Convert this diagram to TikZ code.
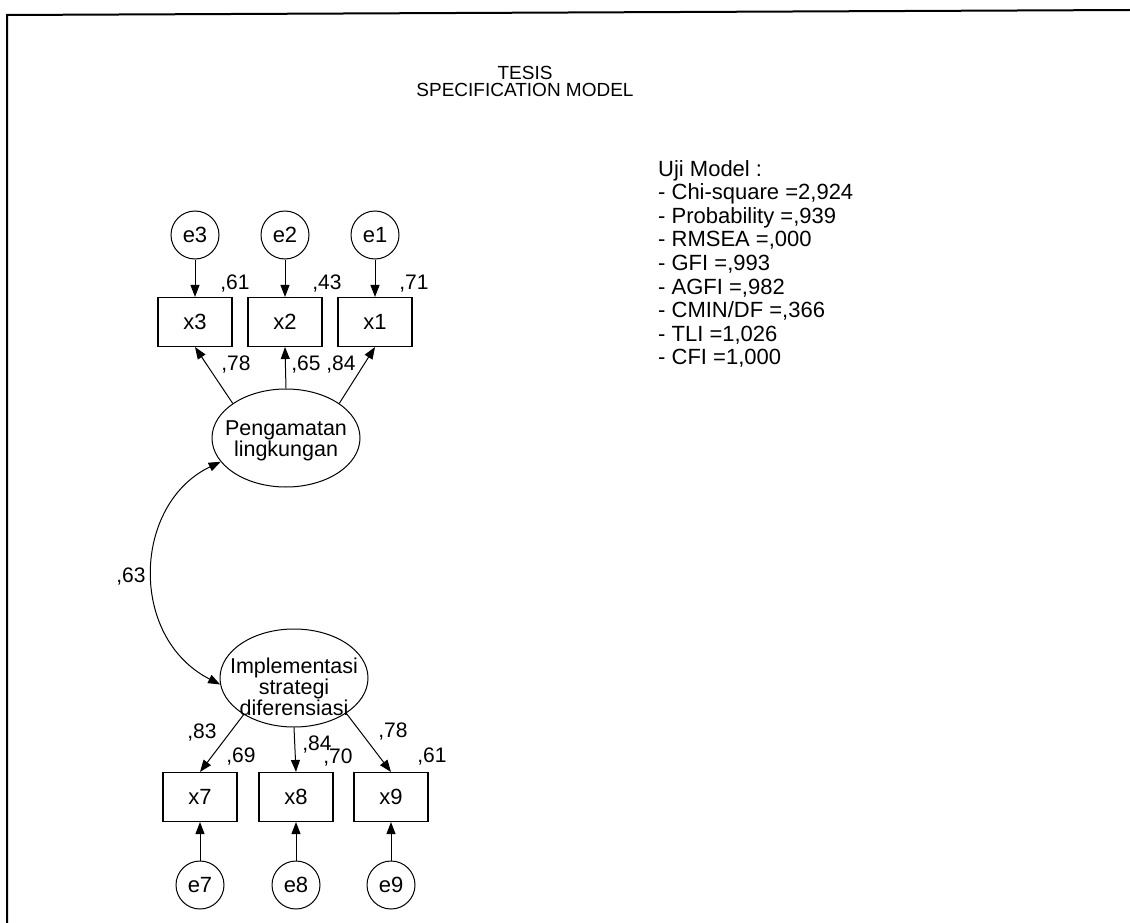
\documentclass[tikz,border=0pt]{standalone}
\usepackage{fontspec}
\setmainfont{Liberation Sans}
\usetikzlibrary{arrows.meta,positioning,shapes.geometric}
\tikzset{
  obsbox/.style={rectangle, draw, line width=1.1pt, minimum width=74pt, minimum height=49pt,
                 inner sep=0pt, font=\fontsize{22}{24}\selectfont},
  errnode/.style={circle, draw, line width=1pt, minimum size=48pt, inner sep=0pt,
                  font=\fontsize{22}{24}\selectfont},
  latent/.style={ellipse, draw, line width=1pt, minimum width=148pt, minimum height=98pt, inner sep=0pt},
  latenttext/.style={align=center, inner sep=0pt, font=\fontsize{21.5}{21}\selectfont},
  coef/.style={inner sep=0pt, font=\fontsize{21}{22}\selectfont},
  stat/.style={inner sep=0pt, anchor=base west, font=\fontsize{22}{24}\selectfont},
  ttl/.style={inner sep=0pt, anchor=base, font=\fontsize{19}{19}\selectfont},
  arr/.style={-{Triangle[length=12pt,width=9pt]}, line width=1pt},
  cov/.style={{Triangle[length=12pt,width=9pt]}-{Triangle[length=12pt,width=9pt]}, line width=1pt},
}
\begin{document}
\begin{tikzpicture}[x=1pt, y=-1pt]
  \useasboundingbox (0,0) rectangle (1130,923);
  \draw[line width=2pt] (1130,10) -- (7,15) -- (7,923);

  % title
  \node[ttl] (title) at (525,80) {TESIS};
  \node[ttl] (subtitle) at (525,97) {SPECIFICATION MODEL};

  % upper construct
  \foreach \n/\xx in {3/195, 2/285, 1/375} {
    \node[errnode] (e\n) at (\xx,235) {e\n};
    \node[obsbox] (x\n) at (\xx,322) {x\n};
    \draw[arr] (e\n) -- (x\n);
  }
  \node[latent] (peng) at (286,438) {};
  \node[latenttext] (pengtxt) at (286,441) {Pengamatan\\lingkungan};
  \draw[arr] (peng.147) -- (x3.south);
  \draw[arr] (peng.north) -- (x2.south);
  \draw[arr] (peng.33) -- (x1.south);

  \node[coef] (r3) at (235,284) {,61};
  \node[coef] (r2) at (327,284) {,43};
  \node[coef] (r1) at (414,284) {,71};
  \node[coef] (l3) at (236,365) {,78};
  \node[coef] (l2) at (306,365) {,65};
  \node[coef] (l1) at (341,365) {,84};

  % lower construct
  \foreach \n/\xx in {7/200, 8/296, 9/391} {
    \node[obsbox] (x\n) at (\xx,797) {x\n};
    \node[errnode] (e\n) at (\xx,885) {e\n};
    \draw[arr] (e\n) -- (x\n);
  }
  \node[latent] (impl) at (294,678) {};
  \node[latenttext] (impltxt) at (294,687) {Implementasi\\strategi\\diferensiasi};
  \draw[arr] (impl.216) -- (x7.north);
  \draw[arr] (impl.south) -- (x8.north);
  \draw[arr] (impl.326) -- (x9.north);

  \node[coef] (l7) at (202,733) {,83};
  \node[coef] (r7) at (241,757) {,69};
  \node[coef] (l8) at (317,745) {,84};
  \node[coef] (r8) at (338,758) {,70};
  \node[coef] (l9) at (393,732) {,78};
  \node[coef] (r9) at (432,757) {,61};

  % correlation
  \draw[cov] (peng.200) .. controls +(-88,42) and +(-92,-47) .. (impl.185);
  \node[coef] (corr) at (131,577) {,63};

  % fit indices
  \foreach \t [count=\i from 0] in {{Uji Model :}, {- Chi-square =2,924}, {- Probability =,939},
      {- RMSEA =,000}, {- GFI =,993}, {- AGFI =,982}, {- CMIN/DF =,366}, {- TLI =1,026}, {- CFI =1,000}}
    \node[stat] (fit\i) at (658, 176+23.6*\i) {\t};
\end{tikzpicture}
\end{document}
